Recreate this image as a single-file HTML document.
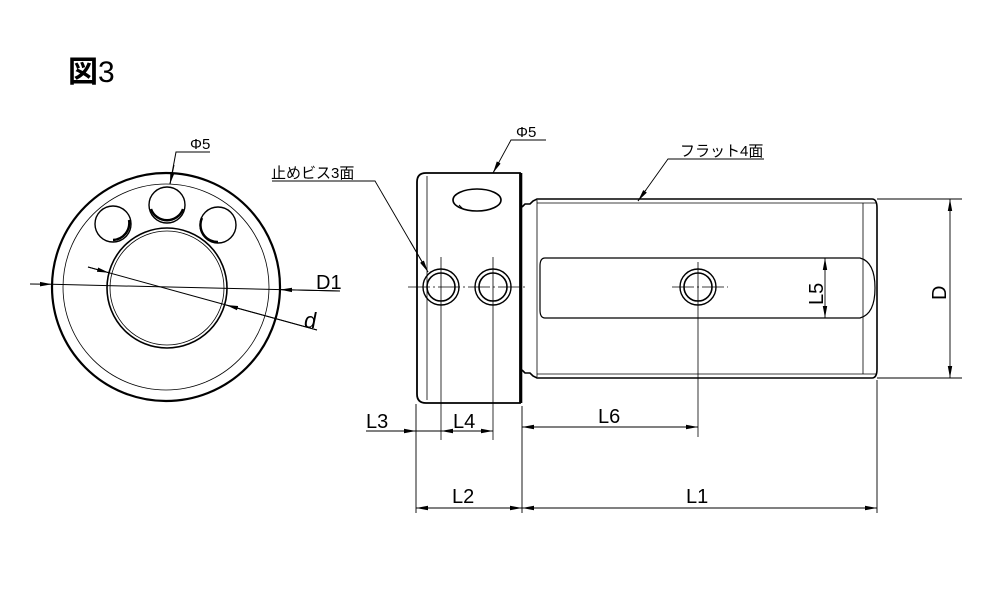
<!DOCTYPE html>
<html><head><meta charset="utf-8"><style>body{margin:0;background:#fff}svg{display:block}text{font-family:"Liberation Sans","Noto Sans CJK JP",sans-serif;fill:#000}</style></head><body>
<svg width="1000" height="600" viewBox="0 0 1000 600" xmlns="http://www.w3.org/2000/svg">
<defs><marker id="a" markerWidth="12" markerHeight="6" refX="12" refY="3" orient="auto" markerUnits="userSpaceOnUse"><path d="M0,0.8 L12,3 L0,5.2z" fill="#000"/></marker></defs>
<text x="68" y="82" font-size="30" font-weight="bold">図<tspan font-weight="normal">3</tspan></text>
<g fill="none" stroke="#000">
<circle cx="166" cy="287" r="114" stroke-width="2.2"/>
<circle cx="166" cy="287" r="103" stroke-width="0.8"/>
<circle cx="167" cy="288" r="60" stroke-width="1.6"/>
<circle cx="167" cy="288" r="57" stroke-width="0.8"/>
<g stroke-width="1.4">
<circle cx="167" cy="205" r="18"/><path d="M151,209 a17,17 0 0 0 32,0" stroke-width="2.4"/>
<circle cx="113" cy="224" r="18"/><path d="M113,240 a17,17 0 0 0 16,-20" stroke-width="2.4"/>
<circle cx="218" cy="225" r="18"/><path d="M202,218 a17,17 0 0 0 16,24" stroke-width="2.4"/>
</g>
<g stroke-width="1">
<line x1="30" y1="284" x2="52" y2="284.3" marker-end="url(#a)"/>
<line x1="52" y1="284.3" x2="340" y2="291"/>
<line x1="340" y1="291" x2="280" y2="289.6" marker-end="url(#a)"/>
<line x1="88" y1="267" x2="317" y2="330"/>
<line x1="88" y1="267" x2="109" y2="272.8" marker-end="url(#a)"/>
<line x1="317" y1="330" x2="226" y2="305" marker-end="url(#a)"/>
<polyline points="210,152 176,152 170,184"/>
<line x1="174" y1="165" x2="170" y2="184" marker-end="url(#a)"/>
</g>
<path d="M426,173 L520,173 L520,403 L426,403 Q417,403 417,394 L417,182 Q417,173 426,173 Z" stroke-width="1.8"/>
<line x1="521" y1="173" x2="521" y2="403" stroke-width="2.6"/>
<line x1="427" y1="176" x2="427" y2="400" stroke-width="0.8"/>
<ellipse cx="477" cy="200" rx="24" ry="11" stroke-width="1.6"/>
<path d="M459,205 L463,209" stroke-width="1"/>
<circle cx="441" cy="287" r="18" stroke-width="1.4"/><circle cx="441" cy="287" r="14" stroke-width="1.6"/>
<circle cx="493" cy="287" r="18" stroke-width="1.4"/><circle cx="493" cy="287" r="14" stroke-width="1.6"/>
<line x1="408" y1="287" x2="526" y2="287" stroke-width="0.8" stroke-dasharray="22,3,2,3"/>
<line x1="441" y1="257" x2="441" y2="440" stroke-width="0.8"/>
<line x1="493" y1="257" x2="493" y2="440" stroke-width="0.8"/>
<path d="M522,207 L525,204 L530,204 L533,201 L537,199 L872,199 Q877,199 877,208 L877,369 Q877,378 872,378 L537,378 L533,376 L530,373 L525,373 L522,370" stroke-width="1.6"/>
<line x1="537" y1="203" x2="877" y2="203" stroke-width="0.8"/>
<line x1="537" y1="374" x2="877" y2="374" stroke-width="0.8"/>
<line x1="537" y1="200" x2="537" y2="377" stroke-width="0.8"/>
<line x1="863" y1="203" x2="863" y2="374" stroke-width="0.8"/>
<path d="M545,258 L860,258 Q875,262 875,288 Q875,314 860,318 L545,318 Q540,318 540,310 L540,266 Q540,258 545,258 Z" stroke-width="1.2"/>
<circle cx="698" cy="287" r="18" stroke-width="1.4"/><circle cx="698" cy="287" r="14" stroke-width="1.6"/>
<line x1="672" y1="287" x2="728" y2="287" stroke-width="0.8" stroke-dasharray="22,3,2,3"/>
<line x1="698" y1="262" x2="698" y2="437" stroke-width="0.8"/>
<g stroke-width="0.9">
<line x1="877" y1="199" x2="962" y2="199"/><line x1="877" y1="378" x2="962" y2="378"/>
<line x1="950" y1="288" x2="950" y2="199" marker-end="url(#a)"/><line x1="950" y1="288" x2="950" y2="378" marker-end="url(#a)"/>
<line x1="825" y1="288" x2="825" y2="258" marker-end="url(#a)"/><line x1="825" y1="288" x2="825" y2="318" marker-end="url(#a)"/>
<line x1="416" y1="404" x2="416" y2="513"/><line x1="522" y1="406" x2="522" y2="513"/><line x1="877" y1="380" x2="877" y2="513"/>
<line x1="366" y1="431" x2="416" y2="431" marker-end="url(#a)"/>
<line x1="416" y1="431" x2="441" y2="431"/>
<line x1="467" y1="431" x2="441" y2="431" marker-end="url(#a)"/><line x1="467" y1="431" x2="493" y2="431" marker-end="url(#a)"/>
<line x1="610" y1="427" x2="522" y2="427" marker-end="url(#a)"/><line x1="610" y1="427" x2="698" y2="427" marker-end="url(#a)"/>
<line x1="469" y1="508" x2="416" y2="508" marker-end="url(#a)"/><line x1="469" y1="508" x2="522" y2="508" marker-end="url(#a)"/>
<line x1="700" y1="508" x2="522" y2="508" marker-end="url(#a)"/><line x1="700" y1="508" x2="877" y2="508" marker-end="url(#a)"/>
<polyline points="272,181 375,181 428,272"/><line x1="410" y1="241" x2="428" y2="272" marker-end="url(#a)"/>
<polyline points="546,140 511,140 493,173"/><line x1="499" y1="162" x2="493" y2="173" marker-end="url(#a)"/>
<polyline points="764,159 668,159 638,201"/><line x1="646" y1="190" x2="638" y2="201" marker-end="url(#a)"/>
</g>
</g>
<g font-size="20">
<text x="190" y="149" font-size="15">Φ5</text>
<text x="316" y="289">D1</text>
<text x="304" y="328" font-style="italic" font-size="22">d</text>
<text x="271" y="178" font-size="15">止めビス3面</text>
<text x="516" y="137" font-size="15">Φ5</text>
<text x="680" y="156" font-size="15">フラット4面</text>
<text x="366" y="428">L3</text>
<text x="453" y="428">L4</text>
<text x="598" y="423">L6</text>
<text x="452" y="503">L2</text>
<text x="686" y="503">L1</text>
<text transform="translate(823,305) rotate(-90)">L5</text>
<text transform="translate(946,300) rotate(-90)">D</text>
</g>
</svg>
</body></html>
